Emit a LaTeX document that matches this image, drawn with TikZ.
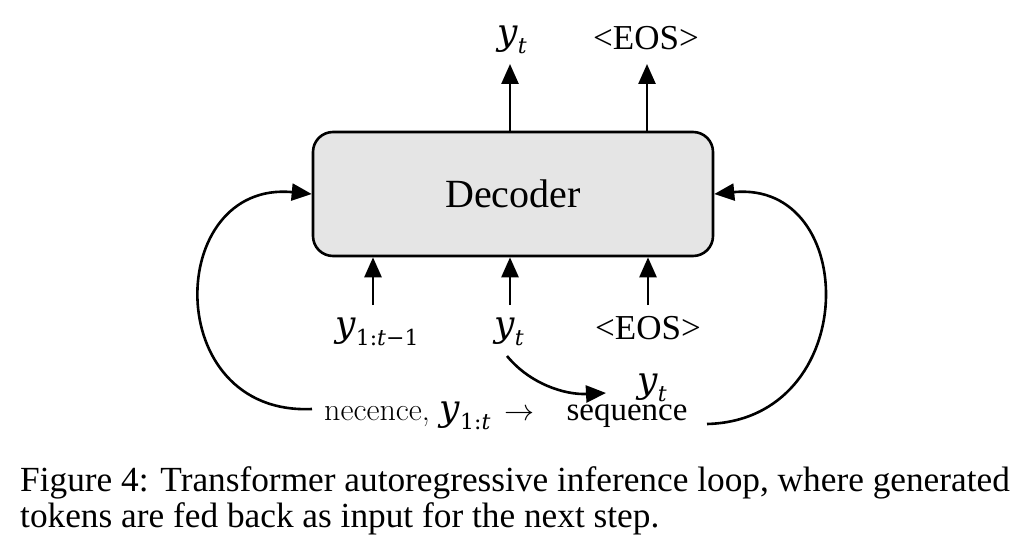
\documentclass[tikz,border=0pt]{standalone}
\usepackage{fontspec}
\setmainfont{Liberation Serif}
\newfontfamily\lmr{Latin Modern Roman}
\newfontfamily\mitf{DejaVu Serif}
\usetikzlibrary{arrows.meta}
\newcommand{\myY}{{\fontsize{36}{42}\selectfont\mitf\itshape y}}
\newcommand{\myT}{{\itshape t}}
\newcommand{\subbox}[1]{\raisebox{-9pt}{\fontsize{22}{26}\selectfont\mitf #1}}
\tikzset{
  arr/.style={line width=2.6pt,-{Triangle[length=20pt,width=17pt]}},
  lbl/.style={inner sep=0pt,anchor=center},
  decbox/.style={draw,line width=2.6pt,rounded corners=20pt,fill=black!10,minimum width=400pt,minimum height=124pt,font=\fontsize{40}{48}\selectfont},
}
\begin{document}
\begin{tikzpicture}[x=1pt,y=-1pt]
\useasboundingbox (0,0) rectangle (1024,559);
\node[decbox] (dec) at (513,194) {Decoder};
% top outputs
\node[lbl] (oy) at (512,40) {\myY\subbox{\myT}};
\node[lbl,font=\fontsize{35}{42}\selectfont] (oe) at (646,38) {<EOS>};
\coordinate (ot1) at (510,64);
\coordinate (ot2) at (647,64);
\draw[arr] (ot1 |- dec.north) -- (ot1);
\draw[arr] (ot2 |- dec.north) -- (ot2);
% bottom inputs
\node[lbl] (i1) at (377,332) {\myY\subbox{1:\myT−1}};
\node[lbl] (i2) at (509,332) {\myY\subbox{\myT}};
\node[lbl,font=\fontsize{35}{42}\selectfont] (i3) at (648,328) {<EOS>};
\coordinate (ib1) at (373,305);
\coordinate (ib2) at (510,305);
\coordinate (ib3) at (648,305);
\draw[arr] (ib1) -- (ib1 |- dec.south);
\draw[arr] (ib2) -- (ib2 |- dec.south);
\draw[arr] (ib3) -- (ib3 |- dec.south);
% bottom sequence text
\node[lbl,anchor=base west] (seqL) at (324,420) {\fontsize{32}{36}\selectfont\lmr necence,\hspace{10pt}\myY\subbox{1:\myT}\hspace{14pt}\scalebox{3}{\normalsize$\rightarrow$}};
\node[lbl] (ny) at (652,388) {\myY\subbox{\myT}};
\node[lbl,font=\fontsize{33}{40}\selectfont,anchor=base] (seqR) at (627,420) {sequence};
\coordinate (cs) at (507,356);
\coordinate (ce) at (606,393);
\draw[arr] (cs) .. controls (530,384) and (565,395) .. (ce);
% loops
\coordinate (ls) at (312,409);
\coordinate (rs) at (707,424);
\draw[arr] (ls) .. controls (160,416) and (165,180) .. (dec.west);
\draw[arr] (rs) .. controls (862,420) and (860,180) .. (dec.east);
% caption
\node[anchor=north west,inner sep=0pt,align=left,font=\fontsize{35.3}{36}\selectfont] (cap) at (20,466) {Figure 4: Transformer autoregressive inference loop, where generated\\tokens are fed back as input for the next step.};
\end{tikzpicture}
\end{document}
